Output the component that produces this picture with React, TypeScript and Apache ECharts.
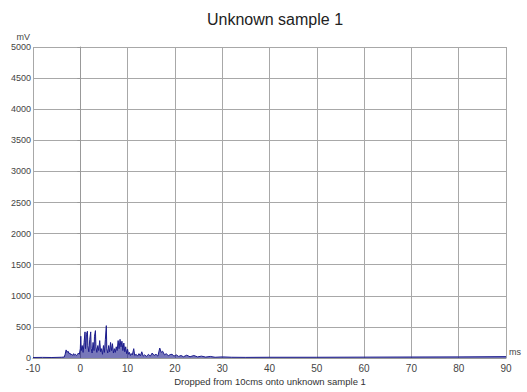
import React, { useEffect, useRef } from "react";
import * as echarts from "echarts";

const times: number[] = [
  -10, -8, -6, -4, -3.4, -3.2, -3.0, -2.8, -2.6, -2.4, -2.2, -2.0, -1.8, -1.6, -1.4, -1.2, -1.0, -0.8, -0.6, -0.4, -0.2,
  0.0, 0.1, 0.2, 0.4, 0.6, 0.8, 1.0, 1.1, 1.3, 1.5, 1.6, 1.8, 2.0, 2.2, 2.3, 2.5, 2.7, 2.9, 3.0, 3.2, 3.3, 3.5, 3.7, 3.9,
  4.1, 4.3, 4.5, 4.7, 4.9, 5.1, 5.3, 5.5, 5.6, 5.8, 6.0, 6.2, 6.4, 6.6, 6.8, 7.0, 7.2, 7.4, 7.6, 7.8, 8.0, 8.2, 8.4, 8.6,
  8.8, 9.0, 9.2, 9.4, 9.6, 9.8, 10.0, 10.2, 10.4, 10.6, 10.8, 11.0, 11.3, 11.5, 11.8, 12.1, 12.4, 12.7, 13.0, 13.3, 13.6,
  14.0, 14.4, 14.8, 15.2, 15.6, 16.0, 16.4, 16.8, 17.1, 17.4, 17.8, 18.2, 18.6, 19.0, 19.4, 19.8, 20.3, 20.8, 21.3, 21.8,
  22.5, 23.2, 24.0, 24.8, 25.6, 26.5, 27.5, 28.5, 30, 32, 35, 40, 50, 60, 70, 80, 90,
];

const millivolts: number[] = [
  8, 10, 8, 12, 15, 60, 130, 90, 110, 70, 80, 50, 60, 40, 70, 45, 60, 40, 55, 80, 60,
  150, 350, 120, 200, 90, 250, 420, 150, 380, 430, 200, 100, 300, 420, 150, 80, 250, 120, 350, 440, 180, 90, 200, 120,
  280, 100, 150, 60, 200, 90, 300, 520, 150, 80, 200, 100, 250, 120, 230, 80, 150, 90, 180, 120, 280, 150, 300, 180,
  270, 120, 240, 100, 180, 70, 140, 60, 90, 40, 70, 50, 150, 40, 60, 30, 70, 35, 100, 30, 50,
  25, 60, 30, 80, 40, 60, 30, 160, 90, 110, 50, 70, 35, 55, 60, 30, 50, 25, 40, 20,
  45, 20, 40, 18, 30, 15, 25, 12, 18, 12, 10, 12, 12, 14, 16, 18, 22,
];

const chartTitle = "Unknown sample 1";
const xAxisTitle = "Dropped from 10cms onto unknown sample 1";
const yUnit = "mV";
const xUnit = "ms";

export default function App() {
  const ref = useRef<HTMLDivElement>(null);
  useEffect(() => {
    if (!ref.current) return;
    const chart = echarts.init(ref.current, undefined, { renderer: "svg" });
    const data = times.map((t, i) => [t, millivolts[i]]);
    chart.setOption({
      animation: false,
      backgroundColor: "#ffffff",
      title: {
        text: chartTitle,
        left: 270,
        textAlign: "center",
        top: 6,
        textStyle: { fontFamily: "Liberation Sans", fontSize: 16, fontWeight: "normal", color: "#222" },
      },
      grid: { left: 33, right: 21, top: 47, bottom: 34 },
      xAxis: {
        type: "value",
        min: -10,
        max: 90,
        interval: 10,
        name: xUnit,
        nameLocation: "end",
        nameGap: 3,
        nameTextStyle: { fontFamily: "Liberation Sans", fontSize: 9, color: "#444", verticalAlign: "bottom", padding: [0, 0, 2, 0] },
        axisLine: { show: true, lineStyle: { color: "#999", width: 1 } },
        axisTick: { show: false },
        axisLabel: { fontFamily: "Liberation Sans", fontSize: 10, color: "#444", margin: 5 },
        splitLine: { show: true, lineStyle: { color: "#a8a8a8", width: 1 } },
      },
      yAxis: {
        type: "value",
        min: 0,
        max: 5000,
        interval: 500,
        axisLine: { show: true, lineStyle: { color: "#999", width: 1 } },
        axisTick: { show: true, inside: false, length: 3, lineStyle: { color: "#999" } },
        axisLabel: {
          fontFamily: "Liberation Sans",
          fontSize: 9,
          color: "#444",
          margin: 2,
          formatter: (v: number) => String(v),
        },
        splitLine: { show: true, lineStyle: { color: "#a8a8a8", width: 1 } },
      },
      graphic: [
        {
          type: "text",
          x: 270,
          y: 376,
          style: {
            text: xAxisTitle,
            fontFamily: "Liberation Sans",
            fontSize: 9.5,
            fill: "#333",
            textAlign: "center",
          },
        },
        {
          type: "text",
          x: 30,
          y: 32,
          style: {
            text: yUnit,
            fontFamily: "Liberation Sans",
            fontSize: 9,
            fill: "#444",
            textAlign: "right",
          },
        },
      ],
      series: [
        {
          type: "line",
          data,
          showSymbol: false,
          lineStyle: { color: "#1c1c8c", width: 1 },
          areaStyle: { color: "#1c1c8c", opacity: 0.6 },
          z: 3,
        },
      ],
    });
    return () => chart.dispose();
  }, []);
  return <div ref={ref} style={{ width: 527, height: 392, position: "fixed", left: 0, top: 0 }} />;
}
